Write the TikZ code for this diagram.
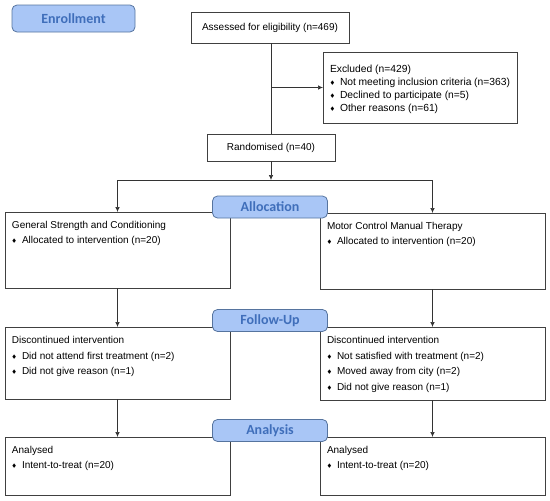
\documentclass[tikz,border=0pt]{standalone}
\usepackage{amssymb}
\usepackage{fontspec}
\setmainfont{Liberation Sans}
\newfontfamily\stagefont{Carlito}
\usetikzlibrary{arrows.meta}

\definecolor{stagefill}{HTML}{A9C6F6}
\definecolor{stagedraw}{HTML}{56749F}
\definecolor{stagetext}{HTML}{3F6EBA}

% bullet line and top-aligned box content
\newcommand{\itm}{\par\makebox[10pt][l]{\raisebox{1pt}{\tiny$\blacklozenge$}}}
\newcommand{\cbox}[3]{\parbox[t][\dimexpr#2pt-19pt\relax][t]{\dimexpr#1pt-14pt\relax}{#3}}

\begin{document}
\begin{tikzpicture}[x=1pt,y=-1pt,
   every node/.style={outer sep=0pt},
   box/.style={draw=black!75,line width=0.8pt,anchor=north west,inner xsep=7pt,inner ysep=9.5pt,
     font=\fontsize{10}{14.5}\selectfont},
   mid/.style={draw=black!75,line width=0.8pt,font=\fontsize{10}{12}\selectfont},
   stage/.style={draw=stagedraw,fill=stagefill,rounded corners=5pt,line width=0.8pt,
     text=stagetext,font=\stagefont\bfseries\fontsize{14}{16}\selectfont,
     minimum width=115pt,minimum height=22pt},
   arr/.style={-{Latex[length=5pt,width=4.5pt]},line width=0.7pt,draw=black!80}]

\useasboundingbox (0,0) rectangle (550,501);

\node[mid,minimum width=158pt,minimum height=31pt] (assess) at (270,27.5) {Assessed for eligibility (n=469)};
\node[box,font=\fontsize{10.3}{13}\selectfont] (excl) at (323,52) {\cbox{194}{71}{\rule{0pt}{10.5pt}Excluded (n=429)
  \itm Not meeting inclusion criteria (n=363)
  \itm Declined to participate (n=5)
  \itm Other reasons (n=61)}};
\node[mid,minimum width=128pt,minimum height=27pt] (rand) at (271,147.5) {Randomised (n=40)};

\node[box] (gsc) at (5,212) {\cbox{225}{76}{General Strength and Conditioning
  \itm Allocated to intervention (n=20)}};
\node[box] (mcmt) at (320,213) {\cbox{225}{76}{Motor Control Manual Therapy
  \itm Allocated to intervention (n=20)}};

\node[box,font=\fontsize{10}{15.5}\selectfont] (fuA) at (5,327) {\cbox{225}{72}{Discontinued intervention
  \itm Did not attend first treatment (n=2)
  \itm Did not give reason (n=1)}};
\node[box,font=\fontsize{10}{15.5}\selectfont] (fuB) at (320,327) {\cbox{225}{73}{Discontinued intervention
  \itm Not satisfied with treatment (n=2)
  \itm Moved away from city (n=2)
  \itm Did not give reason (n=1)}};

\node[box] (anA) at (5,437) {\cbox{225}{58}{Analysed
  \itm Intent-to-treat (n=20)}};
\node[box] (anB) at (320,437) {\cbox{225}{58}{Analysed
  \itm Intent-to-treat (n=20)}};

\coordinate (split) at (271,180);

\draw[line width=0.7pt,draw=black!80] (rand.north |- assess.south) -- (rand.north);
\draw[arr] (rand.north |- excl.west) -- (excl.west);
\draw[arr] (rand.south) -- (split);
\draw[arr] (split) -| (gsc.north);
\draw[arr] (split) -| (mcmt.north);
\draw[arr] (gsc.south) -- (fuA.north);
\draw[arr] (mcmt.south) -- (fuB.north);
\draw[arr] (fuA.south) -- (anA.north);
\draw[arr] (fuB.south) -- (anB.north);

\node[stage,minimum width=123pt,minimum height=27pt] (enrol) at (73.5,18.5) {Enrollment};
\node[stage] (alloc) at (270,207) {Allocation};
\node[stage] (follow) at (270,320.5) {Follow-Up};
\node[stage] (analysis) at (270,430.5) {Analysis};

\end{tikzpicture}
\end{document}
